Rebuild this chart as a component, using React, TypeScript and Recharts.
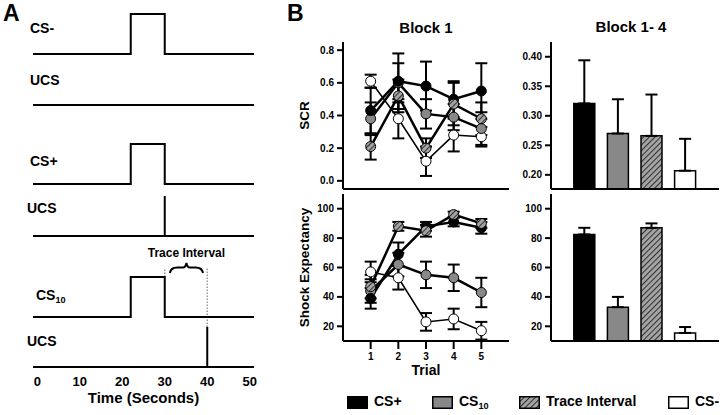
import React from 'react';
import {
  LineChart, Line, BarChart, Bar, XAxis, YAxis, ErrorBar, ReferenceLine, ReferenceArea, Cell,
} from 'recharts';

// Panel A: stimulus timelines (seconds, on/off)
const pulseTime = [-1, 22, 22, 30, 30, 51];
const pulseLevel = [0, 0, 1, 1, 0, 0];
const flatTime = [-1, 51];
const flatLevel = [0, 0];
const shock30Time = [-1, 30, 30, 30, 51];
const shock40Time = [-1, 40, 40, 40, 51];
const shockLevel = [0, 0, 1, 0, 0];
const timeTicks = [0, 10, 20, 30, 40, 50];

// Panel B: block 1 by trial
const trials = [1, 2, 3, 4, 5];
const scrCsPlus = [0.43, 0.61, 0.58, 0.5, 0.55];
const scrCsPlusErr = [0.14, 0.17, 0.15, 0.11, 0.17];
const scrCs10 = [0.38, 0.6, 0.41, 0.39, 0.32];
const scrCs10Err = [0.1, 0.12, 0.09, 0.08, 0.1];
const scrTrace = [0.21, 0.52, 0.2, 0.47, 0.38];
const scrTraceErr = [0.08, 0.1, 0.06, 0.13, 0.1];
const scrCsMinus = [0.61, 0.38, 0.12, 0.28, 0.27];
const scrCsMinusErr = [0.04, 0.12, 0.09, 0.1, 0.06];

const shockCsPlus = [39, 69, 88, 91, 87];
const shockCsPlusErr = [7, 8, 3, 3, 4];
const shockCs10 = [44, 62, 55, 53, 43];
const shockCs10Err = [8, 8, 9, 9, 10];
const shockTrace = [47, 88, 85, 96, 90];
const shockTraceErr = [8, 3, 4, 2, 3];
const shockCsMinus = [57, 53, 23, 25, 17];
const shockCsMinusErr = [7, 8, 6, 7, 6];

// Panel B: blocks 1-4 means
const groups = ['CS+', 'CS10', 'Trace Interval', 'CS-'];
const scrBlock = [0.321, 0.27, 0.266, 0.207];
const scrBlockErr = [0.073, 0.058, 0.07, 0.054];
const shockBlock = [82.5, 33, 87, 15.5];
const shockBlockErr = [4.5, 7, 3, 4];

const scrTicks = [0, 0.2, 0.4, 0.6, 0.8];
const scrBlockTicks = [0.2, 0.25, 0.3, 0.35, 0.4];
const shockTicks = [20, 40, 60, 80, 100];

const GRAY = '#888888';
const HATCH = 'url(#hatch)';
const groupFills = ['#000000', GRAY, HATCH, '#ffffff'];

const FONT = '"Liberation Sans", Arial, Helvetica, sans-serif';
const tickStyle = { fontSize: 10, fontWeight: 'bold', fill: '#000' };
const boxLine = { stroke: '#000', strokeWidth: 2 };

const scrData = trials.map((t, i) => ({
  trial: t,
  csPlus: scrCsPlus[i], csPlusErr: scrCsPlusErr[i],
  cs10: scrCs10[i], cs10Err: scrCs10Err[i],
  trace: scrTrace[i], traceErr: scrTraceErr[i],
  csMinus: scrCsMinus[i], csMinusErr: scrCsMinusErr[i],
}));
const shockData = trials.map((t, i) => ({
  trial: t,
  csPlus: shockCsPlus[i], csPlusErr: shockCsPlusErr[i],
  cs10: shockCs10[i], cs10Err: shockCs10Err[i],
  trace: shockTrace[i], traceErr: shockTraceErr[i],
  csMinus: shockCsMinus[i], csMinusErr: shockCsMinusErr[i],
}));
const scrBars = groups.map((g, i) => ({ pos: i + 1, group: g, v: scrBlock[i], err: [0, scrBlockErr[i]] }));
const shockBars = groups.map((g, i) => ({ pos: i + 1, group: g, v: shockBlock[i], err: [0, shockBlockErr[i]] }));

const Txt = ({ x, y, size, children, center = false }: any) => (
  <div style={{
    position: 'absolute', left: x, top: y - size * 0.55, fontSize: size, lineHeight: `${size * 1.1}px`,
    fontWeight: 'bold', whiteSpace: 'nowrap', color: '#000',
    transform: center ? 'translateX(-50%)' : undefined,
  }}>{children}</div>
);

const Sub = ({ children }: any) => (
  <span style={{ fontSize: '0.65em', position: 'relative', top: '0.35em' }}>{children}</span>
);

// curly brace drawn inside a reference area
const Brace = (p: any) => {
  const { x, y, width: w, height: h } = p;
  const m = x + w / 2;
  const yb = y + h * 0.45;
  const d = `M${x},${y + h} Q${x + 1},${yb} ${x + w * 0.22},${yb} L${m - w * 0.1},${yb} Q${m - 1},${yb} ${m},${y} Q${m + 1},${yb} ${m + w * 0.1},${yb} L${x + w * 0.78},${yb} Q${x + w - 1},${yb} ${x + w},${y + h}`;
  return <path d={d} fill="none" stroke="#000" strokeWidth={2} />;
};

const UNIT = 40;
const PAD = 2;

function Timeline({ time, level, baseline, lo = 0, hi = 1, axis = false, children }: any) {
  const data = time.map((t: number, i: number) => ({ t, v: level[i] }));
  const axisH = axis ? 44 : 0;
  const top = baseline - hi * UNIT - PAD;
  const height = (hi - lo) * UNIT + PAD + (axis ? 0 : PAD) + axisH;
  return (
    <div style={{ position: 'absolute', left: 0, top, width: 262, height }}>
      <LineChart width={262} height={height} data={data}
        margin={{ top: PAD, right: 8, bottom: axis ? 0 : PAD, left: 33 }}>
        <XAxis dataKey="t" type="number" domain={[-1, 51]} ticks={timeTicks} hide={!axis}
          axisLine={false} tickLine={false} tickSize={0} tickMargin={10} height={axisH}
          tick={{ fontSize: 13, fontWeight: 'bold', fill: '#000' }}
          label={axis ? { value: 'Time (Seconds)', position: 'insideBottom', offset: 8, fontSize: 15, fontWeight: 'bold', fill: '#000' } : undefined} />
        <YAxis type="number" domain={[lo, hi]} hide />
        {children}
        <Line type="linear" dataKey="v" stroke="#000" strokeWidth={2} dot={false} isAnimationActive={false} />
      </LineChart>
    </div>
  );
}

function series(key: string, fill: string, width = 2.5) {
  return (
    <Line key={key} type="linear" dataKey={key} stroke="#000" strokeWidth={width}
      dot={{ r: 5, fill, stroke: '#000', strokeWidth: 1 }} isAnimationActive={false}>
      <ErrorBar dataKey={`${key}Err`} direction="y" width={6} strokeWidth={2} stroke="#000" />
    </Line>
  );
}

const lineSeries = () => [
  series('csMinus', '#ffffff', 1.5),
  series('cs10', GRAY),
  series('csPlus', '#000000'),
  series('trace', HATCH),
];

const yLabel = (value: string) => ({
  value, angle: -90, position: 'insideLeft', offset: 21,
  style: { textAnchor: 'middle' }, fontSize: 13.5, fontWeight: 'bold', fill: '#000',
});

const LegendItem = ({ x, fill, children }: any) => (
  <>
    <svg style={{ position: 'absolute', left: x, top: 396 }} width={21} height={13}>
      <rect x={0.75} y={0.75} width={19.5} height={11.5} fill={fill} stroke="#000" strokeWidth={1.5} />
    </svg>
    <Txt x={x + 27} y={402} size={14}>{children}</Txt>
  </>
);

export default function App() {
  return (
    <div style={{
      position: 'absolute', left: 0, top: 0, width: 720, height: 415, background: '#fff',
      fontFamily: FONT, overflow: 'hidden',
    }}>
      <svg width={0} height={0} style={{ position: 'absolute' }}>
        <defs>
          <pattern id="hatch" width={4} height={4} patternUnits="userSpaceOnUse" patternTransform="rotate(45)">
            <rect width={4} height={4} fill="#a6a6a6" />
            <line x1={0} y1={0} x2={0} y2={4} stroke="#333" strokeWidth={2.2} />
          </pattern>
        </defs>
      </svg>

      {/* Panel A */}
      <Txt x={3} y={14} size={23}>A</Txt>
      <Txt x={30} y={29} size={14}>CS-</Txt>
      <Txt x={30} y={81} size={14}>UCS</Txt>
      <Txt x={30} y={162} size={14}>CS+</Txt>
      <Txt x={27} y={209} size={14}>UCS</Txt>
      <Txt x={36} y={296} size={14}>CS<Sub>10</Sub></Txt>
      <Txt x={27} y={342} size={14}>UCS</Txt>

      <Timeline time={pulseTime} level={pulseLevel} baseline={54} />
      <Timeline time={flatTime} level={flatLevel} baseline={105} />
      <Timeline time={pulseTime} level={pulseLevel} baseline={184} />
      <Timeline time={shock30Time} level={shockLevel} baseline={236} />
      <Timeline time={pulseTime} level={pulseLevel} baseline={317} lo={-0.25} hi={1.8}>
        <ReferenceLine segment={[{ x: 30, y: 1 }, { x: 30, y: 1.22 }]} stroke="#999" strokeWidth={1.5} strokeDasharray="1.5 1.5" />
        <ReferenceLine segment={[{ x: 40, y: -0.25 }, { x: 40, y: 1.22 }]} stroke="#999" strokeWidth={1.5} strokeDasharray="1.5 1.5" />
        <ReferenceArea x1={31.2} x2={39} y1={1.1} y2={1.35} shape={Brace}
          label={{ value: 'Trace Interval', position: 'top', offset: 6, fontSize: 12, fontWeight: 'bold', fill: '#000' }} />
      </Timeline>
      <Timeline time={shock40Time} level={shockLevel} baseline={367} axis />

      {/* Panel B */}
      <Txt x={287} y={14} size={23}>B</Txt>
      <Txt x={426} y={28} size={15} center>Block 1</Txt>
      <Txt x={631} y={27} size={15} center>Block 1- 4</Txt>

      <div style={{ position: 'absolute', left: 270, top: 34 }}>
        <LineChart width={250} height={165} data={scrData} margin={{ top: 8, right: 11, bottom: 0, left: 13 }}>
          <XAxis dataKey="trial" type="number" domain={[0, 6]} ticks={trials} tick={false} tickSize={6}
            height={10} axisLine={boxLine} tickLine={boxLine} />
          <XAxis xAxisId="top" orientation="top" type="number" domain={[0, 6]} tick={false} tickLine={false}
            height={0} axisLine={boxLine} />
          <YAxis type="number" domain={[-0.05, 0.85]} ticks={scrTicks} tickFormatter={(v: number) => v.toFixed(1)}
            width={60} tickSize={6} tickMargin={3} tick={tickStyle} axisLine={boxLine} tickLine={boxLine}
            label={yLabel('SCR')} />
          <YAxis yAxisId="r" orientation="right" mirror type="number" domain={[-0.05, 0.85]} ticks={scrTicks}
            tick={false} tickSize={4} width={0} axisLine={boxLine} tickLine={boxLine} />
          {lineSeries()}
        </LineChart>
      </div>

      <div style={{ position: 'absolute', left: 270, top: 186 }}>
        <LineChart width={250} height={195} data={shockData} margin={{ top: 8, right: 11, bottom: 0, left: 13 }}>
          <XAxis dataKey="trial" type="number" domain={[0, 6]} ticks={trials} tick={tickStyle} tickSize={8}
            tickMargin={4} height={40} axisLine={boxLine} tickLine={boxLine}
            label={{ value: 'Trial', position: 'insideBottom', offset: 6, fontSize: 14, fontWeight: 'bold', fill: '#000' }} />
          <XAxis xAxisId="top" orientation="top" type="number" domain={[0, 6]} tick={false} tickLine={false}
            height={0} axisLine={boxLine} />
          <YAxis type="number" domain={[10, 110]} ticks={shockTicks}
            width={60} tickSize={6} tickMargin={3} tick={tickStyle} axisLine={boxLine} tickLine={boxLine}
            label={yLabel('Shock Expectancy')} />
          <YAxis yAxisId="r" orientation="right" mirror type="number" domain={[10, 110]} ticks={shockTicks}
            tick={false} tickSize={4} width={0} axisLine={boxLine} tickLine={boxLine} />
          {lineSeries()}
        </LineChart>
      </div>

      <div style={{ position: 'absolute', left: 480, top: 34 }}>
        <BarChart width={240} height={165} data={scrBars} margin={{ top: 8, right: 1, bottom: 0, left: 11 }}>
          <XAxis dataKey="pos" type="number" domain={[0, 5]} ticks={[]} tick={false} tickLine={false}
            height={10} axisLine={boxLine} />
          <XAxis xAxisId="top" dataKey="pos" orientation="top" type="number" domain={[0, 5]} tick={false} tickLine={false}
            height={0} axisLine={boxLine} />
          <YAxis type="number" domain={[0.176, 0.425]} allowDataOverflow ticks={scrBlockTicks}
            tickFormatter={(v: number) => v.toFixed(2)}
            width={60} tickSize={6} tickMargin={3} tick={tickStyle} axisLine={boxLine} tickLine={boxLine} />
          <YAxis yAxisId="r" orientation="right" mirror type="number" domain={[0.176, 0.425]} allowDataOverflow
            ticks={scrBlockTicks} tick={false} tickSize={4} width={0} axisLine={boxLine} tickLine={boxLine} />
          <Bar dataKey="v" barSize={21} stroke="#000" strokeWidth={1.5} isAnimationActive={false}>
            {scrBars.map((d, i) => <Cell key={d.group} fill={groupFills[i]} />)}
            <ErrorBar dataKey="err" direction="y" width={6} strokeWidth={2} stroke="#000" />
          </Bar>
        </BarChart>
      </div>

      <div style={{ position: 'absolute', left: 480, top: 186 }}>
        <BarChart width={240} height={195} data={shockBars} margin={{ top: 8, right: 1, bottom: 0, left: 11 }}>
          <XAxis dataKey="pos" type="number" domain={[0, 5]} ticks={[]} tick={false} tickLine={false}
            height={40} axisLine={boxLine} />
          <XAxis xAxisId="top" dataKey="pos" orientation="top" type="number" domain={[0, 5]} tick={false} tickLine={false}
            height={0} axisLine={boxLine} />
          <YAxis type="number" domain={[10, 110]} allowDataOverflow ticks={shockTicks}
            width={60} tickSize={6} tickMargin={3} tick={tickStyle} axisLine={boxLine} tickLine={boxLine} />
          <YAxis yAxisId="r" orientation="right" mirror type="number" domain={[10, 110]} allowDataOverflow
            ticks={shockTicks} tick={false} tickSize={4} width={0} axisLine={boxLine} tickLine={boxLine} />
          <Bar dataKey="v" barSize={21} stroke="#000" strokeWidth={1.5} isAnimationActive={false}>
            {shockBars.map((d, i) => <Cell key={d.group} fill={groupFills[i]} />)}
            <ErrorBar dataKey="err" direction="y" width={6} strokeWidth={2} stroke="#000" />
          </Bar>
        </BarChart>
      </div>

      {/* Legend */}
      <LegendItem x={347} fill="#000000">CS+</LegendItem>
      <LegendItem x={432} fill={GRAY}>CS<Sub>10</Sub></LegendItem>
      <LegendItem x={519} fill={HATCH}>Trace Interval</LegendItem>
      <LegendItem x={668} fill="#ffffff">CS-</LegendItem>
    </div>
  );
}
